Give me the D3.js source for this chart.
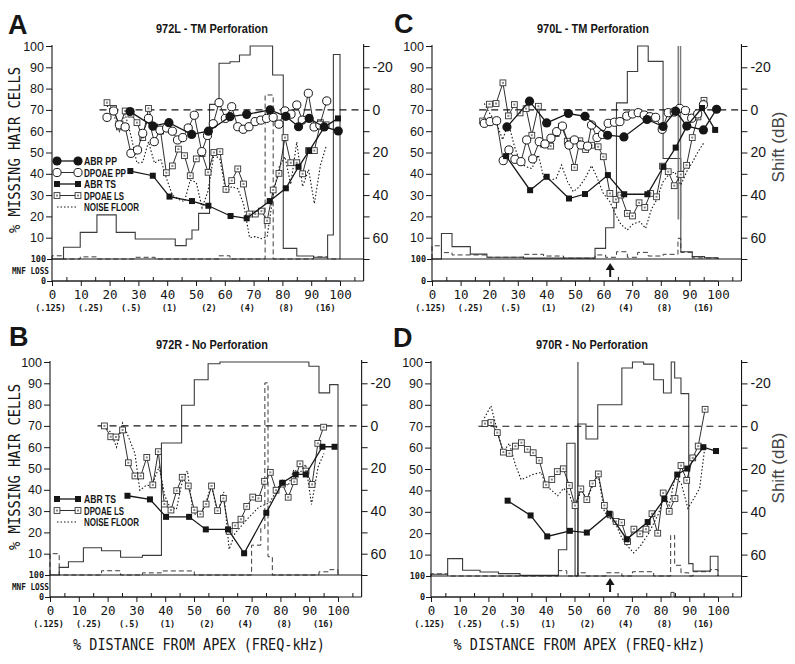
<!DOCTYPE html>
<html><head><meta charset="utf-8">
<script src="https://cdn.jsdelivr.net/npm/d3@7"></script>
<style>body{margin:0;background:#fff}svg{display:block}</style>
</head><body>
<svg id="chart" width="795" height="664"></svg>
<script>
// ---------- shared tick / label data ----------
const xTickVals = [0,10,20,30,40,50,60,70,80,90,100];
const xMinorVals = [5,15,25,35,45,55,65,75,85,95,105];
const pctTickVals = [10,20,30,40,50,60,70,80,90,100];
const shiftTickVals = [-30,-20,-10,0,10,20,30,40,50,60,70];
const shiftLabelVals = [-20,0,20,40,60];
const freqLabels = ["(.125)","(.25)","(.5)","(1)","(2)","(4)","(8)","(16)"];
const freqPos = [-0.5,13.5,27.5,40.8,54.5,67.8,81.3,94.9];

// ---------- Panel A: 972L - TM Perforation ----------
const A_ohcEdges = [0,4,9.8,15.6,22.3,28.9,42.8,46.6,48.6,50.9,54.7,58,61.8,65.1,68.8,76.6,80.3,85,90.8,95.7,97.7,100];
const A_ohcVals  = [0,5.5,12.5,20.7,12.5,9.4,6.3,9.4,13.6,21.4,72.6,91.9,92.6,95.8,100,86.4,5,1.4,0.8,11.3,96];
const A_ihcEdges = [0,4,9.8,15.6,28.9,35.8,58,61.8,74,76.8,90.8,95.7,100];
const A_ihcVals  = [1.5,0,1,0,0.8,0,1.5,0,77,0,1,0];
const A_mnfEdges = [0,100];
const A_mnfVals  = [0];
const A_abrPP = [[27.1,69.2],[35,62.4],[40.6,64],[48.5,58.5],[54.3,60],[61.8,66.8],[67.6,67.9],[75.7,70],[81.2,67],[85.6,62.1],[89.3,66],[94.5,62],[99.4,60.1]];
const A_dpPP = [[19.1,66.5],[21.4,69.5],[23.4,63],[25.4,62],[27.4,49.6],[29.7,51.2],[31.5,59],[33.5,66],[35.5,55.1],[37.5,60.5],[39.8,61.5],[41.8,60],[43.6,55.9],[45.4,57],[47.3,61.5],[49.4,67.5],[52,50.4],[54,58],[56,63.5],[58,73.4],[60.2,66],[62.4,71.5],[64.5,62.1],[66.4,60.9],[68.4,62.1],[70.5,64.5],[72.5,65.2],[74.5,66],[76.8,66.5],[78.8,63.3],[80.9,69.5],[83,68],[85,72.3],[86.9,65.2],[89,77.8],[91,62],[93,62.9],[95.4,74.2]];
const A_abrTS = [[27.2,41.3],[35,39.1],[40.8,29.3],[48.6,27.2],[54.3,25],[62,20.2],[67.6,19.1],[75.6,27.2],[81.2,33.2],[85.6,43.3],[89.3,50.8],[94.6,62],[99.3,66]];
const A_dpLS = [[19.1,73.4],[21.4,70.7],[23.4,62],[25.4,69.5],[27.4,68],[29.5,64],[31.5,57],[33.5,70.7],[35.6,62],[37.7,60],[39.7,40.5],[41.8,43.7],[43.9,51.6],[46,48.5],[48,39.1],[50.1,47],[52.1,49.5],[54.2,40.7],[56.2,50],[58.3,50.4],[60.4,32.7],[62.4,36.8],[64.5,42.3],[66.5,35.2],[68.6,21.1],[70.6,21.1],[72.7,22.5],[74.7,18],[76.8,32.4],[78.8,40.2],[80.9,57],[82.9,45.2],[85,45.2],[87,40],[89.1,50.9],[91.1,50.9],[93.2,64],[95.2,63]];
const A_noise = [[19.1,72],[21.4,68],[23.4,60],[25.4,68],[27.4,58],[29.5,45],[31.5,45.5],[33.5,55],[35.6,45],[37.7,47],[39.7,38],[41.8,30],[43.9,28],[46,27],[48,37],[50.1,36],[52.1,24],[54.2,32],[56.2,49],[58.3,47],[60.4,31],[62.4,34],[64.5,33],[66.5,26],[68.6,10],[70.6,10.5],[72.7,9.5],[74.7,10.5],[76.8,30],[78.8,43],[80.9,48],[82.9,35],[85,55],[87,34],[89.1,42],[91.1,26],[93.2,44],[95.2,53]];

// ---------- Panel B: 972R - No Perforation ----------
const B_ohcEdges = [0,3.2,6.4,11.6,17.9,24.5,32.1,38.7,45.7,50.1,54.9,59,89.9,93.4,97.1,100];
const B_ohcVals  = [0,3.6,6.2,12.8,11.4,8.3,9.2,62,79.7,91.7,99.2,100,98,85.5,89.4];
const B_ihcEdges = [0,3.2,17.9,24.5,32.1,38.7,50.1,70,73.2,74.6,75.7,77.2,93.4,97.1,100];
const B_ihcVals  = [10,0,2,0,1,1.9,0,14,21.9,90.2,8.6,0,1.5,2.5];
const B_mnfEdges = [0,100];
const B_mnfVals  = [0];
const B_abrTS = [[26.9,37.2],[34.7,35.5],[40.3,27.3],[48.3,27.3],[54.1,21.4],[61.8,21.4],[67.4,10.2],[75.1,29.2],[80.7,43.3],[85.3,47.2],[88.8,47.2],[94.6,60.2],[98.8,60.2]];
const B_dpLS = [[18.9,70],[21.1,64.9],[22.9,64.8],[25.2,68.1],[27.2,52.7],[29.5,46.5],[31.5,46.5],[33.6,55.2],[35.7,42.3],[37.6,57.9],[39.7,33.3],[42,30.5],[44,39.6],[45.9,45.9],[48,41.8],[50.1,30.5],[52.2,28.6],[54.2,33.3],[56.1,41.8],[58.2,30.2],[60.2,36],[62.2,20.5],[64.3,23.2],[66.3,26.2],[68.3,32.2],[70.4,36.6],[72.4,36],[74.5,44],[76.5,48.2],[78.5,39.8],[80.7,42.7],[82.7,36.5],[84.8,43.8],[86.8,52.2],[88.9,48.8],[91,42.5],[93,61.8],[95,69.4]];
const B_noise = [[18.9,70],[21.1,67],[23.1,60],[25.2,71.4],[27.2,65],[29.5,57],[31.2,39.8],[33.5,42.2],[35.3,41.9],[37.9,50.8],[39.9,37],[41.6,32],[43.9,30.8],[46,44.5],[47.7,48.9],[49.7,29.2],[51.8,27.3],[54,33.6],[56.1,42.2],[58.2,28.9],[60.3,39],[62.2,12],[64.2,19.5],[68.2,25.8],[72.6,32],[76.3,33.9],[78.6,39.8],[80.7,44.5],[82.7,41.9],[84.7,49.5],[86.7,47.7],[88.8,51.9],[90.8,33.1],[93.1,50.8],[95.1,57]];

// ---------- Panel C: 970L - TM Perforation ----------
const C_ohcEdges = [0,3.3,7,13.4,19.2,32,57,60.7,63.6,64.5,68.3,71.9,75.6,80.8,87,91,95.3,100];
const C_ohcVals  = [0,12,5.8,2.3,0.8,0.4,5,14.7,24,73.3,88,100,92.8,47.2,3.4,1.1,0.6];
const C_ihcEdges = [0,3.3,7,19.2,32,39,46,57,60.7,64.5,68.3,71.9,75.6,80.8,86,87,91,100];
const C_ihcVals  = [6.2,3,1.9,0.8,2.2,1.4,0.4,1.9,0.8,3.4,0.8,3.1,1.4,2.2,9.7,3.1,0.5];
const C_mnfEdges = [0,100];
const C_mnfVals  = [0];
const C_abrPP = [[26.2,62],[34.1,74.1],[40.1,63.9],[47.7,68.3],[53.5,67],[61.4,58.1],[67.1,57.3],[75.2,65.5],[80.8,62.2],[85.2,69.4],[89.1,62.4],[94.9,60.6],[99.5,70.3]];
const C_dpPP = [[18.3,63.7],[20.3,64.5],[22.6,64.9],[24.9,46.2],[26.9,51.2],[29,46.8],[31.1,45.7],[33.1,55.9],[35.2,47],[37.5,55.1],[39.5,54],[41.6,56.7],[43.6,59.8],[45.6,62.4],[47.9,53.5],[49.8,55.9],[52.1,53.5],[54.4,53],[55.8,62.9],[57.7,57],[59.6,58.5],[61.6,63.7],[63.8,64.2],[65.7,64.5],[68.1,67.1],[70.1,68.1],[72.1,68.7],[74.2,67.6],[76.2,66.8],[78.2,66.5],[80.5,60.9],[82.6,68.7],[84.7,69],[86.6,70.7],[88.6,69.7],[90.8,66.1],[92.9,68.1],[94.9,72.4]];
const C_abrTS = [[25.9,48.3],[34.3,32.3],[40.1,38.6],[47.9,28.4],[53.5,30.5],[61.5,39.4],[67.2,30.4],[75.3,30.4],[80.9,43.3],[85.2,52.3],[89.1,62.4],[94.4,70.9],[99,60.6]];
const C_dpLS = [[17.7,64.8],[20.1,72.7],[22.4,73],[24.8,82.7],[26.7,67.2],[28.8,72.5],[30.8,68.6],[32.9,70.6],[34.9,58.1],[37.2,71.7],[39,53.9],[41.5,53],[43.4,58.9],[45.3,62.3],[47.3,55.3],[49.8,43],[51.7,55.5],[53.7,51.4],[55.8,53.4],[58.1,52.7],[59.9,48],[62.2,30.8],[64.3,28],[66,30],[68.3,21.4],[70.1,20.2],[72.4,26.4],[74.4,24.2],[76.4,30.8],[78.5,29.2],[80.6,43.6],[82.6,41],[84.7,34.4],[87,39.7],[89,44],[91,57],[93,66.7],[95.1,74.5]];
const C_noise = [[18.3,73],[20.3,68],[22.5,64],[24.7,56],[26.7,64],[28.8,53],[30.8,45.3],[32.9,43.3],[34.9,42.5],[37.2,48.8],[39,38.6],[41.3,37],[43.4,37.8],[45.3,44.1],[47.4,36.3],[49.4,31.6],[51.5,33.9],[53.6,38],[55.8,43.8],[57.6,38.6],[59.9,30.8],[62.2,26.9],[64,21.4],[66,16.4],[68.3,13.6],[70.3,16.4],[72.7,17.5],[74.7,14.4],[76.7,23.3],[78.5,27.7],[80.8,36.3],[82.9,39.8],[84.9,40.9],[87,34.7],[89.3,41.7],[91,45.3],[93,50.3],[95.1,54.7]];

// ---------- Panel D: 970R - No Perforation ----------
const D_ohcEdges = [0,5.8,11,17.1,23.5,31,44.4,47.3,50.2,51.2,54,58.1,66.5,70.2,74.1,77.6,81,83.7,84.9,87.1,89.8,91.3,97.3,100];
const D_ohcVals  = [0.8,8.1,2.7,1.9,1.1,0.3,12.3,62,0,71,64,80,97.2,100,99,91.7,85.5,100,92.5,85.2,5.8,2.3,9.2];
const D_ihcEdges = [0,5.8,44.4,47.3,51.2,54,61,66.5,70.2,77.6,83.5,84.9,87.1,89.8,91.3,97.3,100];
const D_ihcVals  = [1,0,2.5,0,1.5,0,1.5,0,2,0,19,5,1.5,0,2,3];
const D_mnfEdges = [0,83.6,84.7,100];
const D_mnfVals  = [0,22,0];
const D_abrTS = [[26.7,35.2],[34.7,28.3],[40.5,18.5],[48.4,21.1],[54.3,20.3],[62.1,29.1],[68.2,17.2],[75.5,25.2],[81.3,36],[85.8,47.4],[89.3,50.2],[94.9,60.2],[99.3,58.4]];
const D_dpLS = [[18.8,71.2],[20.9,71.7],[23.1,67],[25.2,57.9],[27.3,57.3],[29.4,60.7],[31.5,62.3],[33.6,59.2],[35.6,57.6],[37.7,54],[40.1,42.6],[42.1,45.1],[44,48.8],[46.1,50.1],[48.2,42.3],[50.2,32.9],[52.2,40.7],[54.3,35.7],[56.3,43.2],[58.3,47.7],[60.4,33],[62.4,28.6],[64.5,25.5],[66.4,25],[68.5,16.1],[70.7,21.9],[72.8,19.7],[74.9,21.9],[77,29.1],[79,20],[80.9,38.8],[83,30.2],[85,36.2],[87.1,51.6],[89.1,44.7],[91.2,55.2],[93.1,60.7],[95.5,77.9]];
const D_noise = [[18.6,73.8],[20.9,79.5],[23.1,67.7],[25.2,58],[27.3,62],[29.4,52],[31.4,45],[35.6,47.5],[38.4,48.4],[40.1,42],[42.1,40],[44.1,37.5],[46.2,41],[48.2,38],[50.2,31],[52.2,40],[54.3,36],[56.3,42],[58.3,47],[60.4,30],[62.4,27],[64.5,24],[66.4,18],[68.5,14],[70.6,10.8],[72.9,13.9],[75.8,19.8],[79.3,29.2],[81.4,37.8],[83,33],[85,46],[87.2,43.3],[89.5,31.6],[91.5,36],[93.6,41],[95.5,61]];

// ---------- drawing ----------
const svg = d3.select("#chart");
const SANS = "'Liberation Sans', Arial, sans-serif";
const MONO = "'DejaVu Sans Mono', monospace";
const INK = "#161616";

function stepPts(edges, vals){
  const pts = [[edges[0],0]];
  vals.forEach((v,i)=>{ pts.push([edges[i],v]); pts.push([edges[i+1],v]); });
  pts.push([edges[edges.length-1],0]);
  return pts;
}

function addMarkers(g, data, type, x, y){
  const e = g.append("g").selectAll(null).data(data).enter();
  if(type==="fc") e.append("circle").attr("cx",d=>x(d[0])).attr("cy",d=>y(d[1])).attr("r",4.6).attr("fill",INK);
  if(type==="oc") e.append("circle").attr("cx",d=>x(d[0])).attr("cy",d=>y(d[1])).attr("r",4.1).attr("fill","#fff").attr("stroke",INK).attr("stroke-width",1);
  if(type==="fs") e.append("rect").attr("x",d=>x(d[0])-3).attr("y",d=>y(d[1])-3).attr("width",6).attr("height",6).attr("fill",INK);
  if(type==="os"){
    e.append("rect").attr("x",d=>x(d[0])-2.9).attr("y",d=>y(d[1])-2.9).attr("width",5.8).attr("height",5.8).attr("fill","#fff").attr("stroke","#333").attr("stroke-width",0.9);
    g.append("g").selectAll(null).data(data).enter().append("rect").attr("x",d=>x(d[0])-1).attr("y",d=>y(d[1])-1).attr("width",2).attr("height",2).attr("fill","#888");
  }
}

const styles = {
  noise: {stroke:INK, width:1.1, dash:"1.5,2", marker:null},
  dpLS:  {stroke:INK, width:0.9, dash:null, marker:"os"},
  dpPP:  {stroke:INK, width:0.9, dash:null, marker:"oc"},
  abrTS: {stroke:INK, width:1.3, dash:null, marker:"fs"},
  abrPP: {stroke:INK, width:1.3, dash:null, marker:"fc"}
};
const legendNames = {abrPP:"ABR PP", dpPP:"DPOAE PP", abrTS:"ABR TS", dpLS:"DPOAE LS", noise:"NOISE FLOOR"};
const legendLen = {abrPP:33, dpPP:42, abrTS:32, dpLS:40, noise:55};

function drawPanel(p){
  const g = svg.append("g");
  const x = d3.scaleLinear().domain([0,100]).range([p.x0,p.x100]);
  const y = d3.scaleLinear().domain([0,100]).range([p.yBase,p.yTop]);
  const yS = d3.scaleLinear().domain([-30,70]).range([p.yTop,p.yBase]);
  const yM = d3.scaleLinear().domain([0,100]).range([p.yMnf,p.yBase]);
  const xR = x(108.2);
  const line = d3.line().x(d=>x(d[0])).y(d=>y(d[1]));
  const mline = d3.line().x(d=>x(d[0])).y(d=>yM(d[1]));

  // histograms
  g.append("path").attr("d",line(stepPts(p.ohc[0],p.ohc[1]))).attr("fill","none").attr("stroke","#3c3c3c").attr("stroke-width",1.1);
  g.append("path").attr("d",line(stepPts(p.ihc[0],p.ihc[1]))).attr("fill","none").attr("stroke","#3c3c3c").attr("stroke-width",1).attr("stroke-dasharray","5,3");
  g.append("path").attr("d",mline(stepPts(p.mnf[0],p.mnf[1]))).attr("fill","none").attr("stroke","#3c3c3c").attr("stroke-width",1);

  // extra vertical markers
  (p.vlines||[]).forEach(v=>{
    g.append("line").attr("x1",x(v.x)).attr("x2",x(v.x)).attr("y1",y(v.from)).attr("y2",y(v.to))
      .attr("stroke",v.color).attr("stroke-width",v.w);
  });

  // frame
  const fr = (x1,y1,x2,y2)=>g.append("line").attr("x1",x1).attr("y1",y1).attr("x2",x2).attr("y2",y2).attr("stroke",INK).attr("stroke-width",1.1);
  fr(p.x0,p.yTop-1,p.x0,p.yMnf);
  fr(p.x0,p.yMnf,xR,p.yMnf);
  fr(xR,p.yTop-2,xR,p.yMnf);
  fr(p.x0,p.yBase,xR,p.yBase);

  // 0 dB reference
  g.append("line").attr("x1",x(16.5)).attr("x2",xR).attr("y1",yS(0)).attr("y2",yS(0))
    .attr("stroke",INK).attr("stroke-width",1.1).attr("stroke-dasharray","7,5");

  // axes
  const la = g.append("g").attr("transform",`translate(${p.x0},0)`)
    .call(d3.axisLeft(y).tickValues(pctTickVals).tickSize(6).tickSizeOuter(0).tickPadding(2));
  la.select(".domain").remove();
  la.selectAll("text").attr("font-family",SANS).attr("font-size",12.5).attr("fill",INK);
  la.selectAll("line").attr("stroke",INK);

  const lm = g.append("g").attr("transform",`translate(${p.x0},0)`)
    .call(d3.axisLeft(yM).tickValues([0,100]).tickSize(5).tickSizeOuter(0).tickPadding(1));
  lm.select(".domain").remove();
  lm.selectAll("text").attr("font-family",MONO).attr("font-weight","bold").attr("font-size",8.5).attr("fill",INK);
  lm.selectAll("line").attr("stroke",INK);

  const ba = g.append("g").attr("transform",`translate(0,${p.yMnf})`)
    .call(d3.axisBottom(x).tickValues(xTickVals).tickSize(5).tickSizeOuter(0).tickPadding(4));
  ba.select(".domain").remove();
  ba.selectAll("text").attr("font-family",MONO).attr("font-size",12.5).attr("fill",INK);
  ba.selectAll("line").attr("stroke",INK);

  const bm = g.append("g").attr("transform",`translate(0,${p.yMnf})`)
    .call(d3.axisBottom(x).tickValues(xMinorVals).tickSize(-4).tickSizeOuter(0).tickFormat(""));
  bm.select(".domain").remove();
  bm.selectAll("line").attr("stroke",INK);

  const ra = g.append("g").attr("transform",`translate(${xR},0)`)
    .call(d3.axisRight(yS).tickValues(shiftTickVals).tickSize(6).tickSizeOuter(0).tickPadding(3)
      .tickFormat(d=>shiftLabelVals.includes(d)?(d<0?"-"+(-d):String(d)):""));
  ra.select(".domain").remove();
  ra.selectAll("text").attr("font-family",SANS).attr("font-size",14).attr("fill",INK);
  ra.selectAll("line").attr("stroke",INK);

  // frequency labels
  g.append("g").selectAll(null).data(freqLabels).enter().append("text")
    .attr("x",(d,i)=>x(freqPos[i])).attr("y",p.yMnf+30).attr("text-anchor","middle")
    .attr("font-family",MONO).attr("font-weight","bold").attr("font-size",8.5).attr("fill",INK).text(d=>d);

  // series
  p.order.forEach(k=>{
    const st = styles[k], data = p.series[k];
    if(!data) return;
    const path = g.append("path").attr("d",line(data)).attr("fill","none").attr("stroke",st.stroke).attr("stroke-width",st.width);
    if(st.dash) path.attr("stroke-dasharray",st.dash);
    if(st.marker) addMarkers(g,data,st.marker,x,y);
  });

  // legend
  if(p.legend){
    p.legend.keys.forEach((k,i)=>{
      const ly = p.legend.y[i], st = styles[k];
      const ln = g.append("line").attr("x1",57).attr("x2",78).attr("y1",ly).attr("y2",ly).attr("stroke",st.stroke).attr("stroke-width",st.width);
      if(st.dash) ln.attr("stroke-dasharray",st.dash);
      if(st.marker){
        const lx = d3.scaleLinear().domain([0,1]).range([57,78]);
        addMarkers(g,[[0,ly],[1,ly]],st.marker,lx,v=>v);
      }
      g.append("text").attr("x",84).attr("y",ly+4).attr("font-family",SANS).attr("font-weight","bold")
        .attr("font-size",10.5).attr("textLength",legendLen[k]).attr("lengthAdjust","spacingAndGlyphs")
        .attr("fill",INK).text(legendNames[k]);
    });
  }

  // arrow
  if(p.arrow){
    const ax = x(p.arrow.x);
    g.append("line").attr("x1",ax).attr("x2",ax).attr("y1",p.arrow.y1).attr("y2",p.arrow.y0+5).attr("stroke",INK).attr("stroke-width",2);
    g.append("path").attr("d",`M${ax-4.5},${p.arrow.y0+7}L${ax},${p.arrow.y0}L${ax+4.5},${p.arrow.y0+7}Z`).attr("fill",INK);
  }

  // titles and letters
  g.append("text").attr("x",p.titleX).attr("y",p.yTop-13).attr("text-anchor","middle").attr("font-family",SANS)
    .attr("font-weight","bold").attr("font-size",13).attr("textLength",112).attr("lengthAdjust","spacingAndGlyphs")
    .attr("fill",INK).text(p.title);
  g.append("text").attr("x",p.letterX).attr("y",p.letterY).attr("font-family",SANS).attr("font-weight","bold")
    .attr("font-size",27).attr("fill",INK).text(p.letter);

  if(p.leftTitle){
    g.append("text").attr("transform",`translate(20,${p.leftTitleY}) rotate(-90)`).attr("text-anchor","middle")
      .attr("font-family",MONO).attr("font-size",16).attr("textLength",166).attr("lengthAdjust","spacingAndGlyphs")
      .attr("fill",INK).text("% MISSING HAIR CELLS");
    g.append("text").attr("x",49).attr("y",(p.yBase+p.yMnf)/2+3.5).attr("text-anchor","end")
      .attr("font-family",MONO).attr("font-weight","bold").attr("font-size",8.5).attr("textLength",37)
      .attr("lengthAdjust","spacingAndGlyphs").attr("fill",INK).text("MNF LOSS");
  }
  if(p.rightTitle){
    g.append("text").attr("transform",`translate(784,${p.rightTitleY}) rotate(-90)`).attr("text-anchor","middle")
      .attr("font-family",SANS).attr("font-size",17).attr("fill","#444").text("Shift (dB)");
  }
  if(p.xTitle){
    g.append("text").attr("x",(p.x0+p.x100)/2+5).attr("y",p.yMnf+53).attr("text-anchor","middle")
      .attr("font-family",MONO).attr("font-size",16).attr("textLength",252).attr("lengthAdjust","spacingAndGlyphs")
      .attr("fill",INK).text("% DISTANCE FROM APEX (FREQ-kHz)");
  }
}

drawPanel({
  x0:52, x100:340, yTop:46, yBase:259, yMnf:281,
  ohc:[A_ohcEdges,A_ohcVals], ihc:[A_ihcEdges,A_ihcVals], mnf:[A_mnfEdges,A_mnfVals],
  series:{noise:A_noise, dpLS:A_dpLS, dpPP:A_dpPP, abrTS:A_abrTS, abrPP:A_abrPP},
  order:["noise","dpLS","dpPP","abrTS","abrPP"],
  legend:{keys:["abrPP","dpPP","abrTS","dpLS","noise"], y:[161,172.5,184,195.5,207]},
  title:"972L - TM Perforation", titleX:212, letter:"A", letterX:8, letterY:34,
  leftTitle:true, leftTitleY:150
});
drawPanel({
  x0:50, x100:338, yTop:362, yBase:575, yMnf:597,
  ohc:[B_ohcEdges,B_ohcVals], ihc:[B_ihcEdges,B_ihcVals], mnf:[B_mnfEdges,B_mnfVals],
  series:{noise:B_noise, dpLS:B_dpLS, abrTS:B_abrTS},
  order:["noise","dpLS","abrTS"],
  legend:{keys:["abrTS","dpLS","noise"], y:[499,510.5,522]},
  title:"972R - No Perforation", titleX:212, letter:"B", letterX:9, letterY:346,
  leftTitle:true, leftTitleY:467, xTitle:true
});
drawPanel({
  x0:432, x100:718, yTop:46, yBase:259, yMnf:281,
  ohc:[C_ohcEdges,C_ohcVals], ihc:[C_ihcEdges,C_ihcVals], mnf:[C_mnfEdges,C_mnfVals],
  series:{noise:C_noise, dpLS:C_dpLS, dpPP:C_dpPP, abrTS:C_abrTS, abrPP:C_abrPP},
  order:["noise","dpLS","dpPP","abrTS","abrPP"],
  vlines:[{x:86.1,from:18.6,to:100,color:"#777",w:1.4},{x:86.9,from:18.6,to:100,color:"#777",w:1.4}],
  arrow:{x:62.3,y0:263,y1:277},
  title:"970L - TM Perforation", titleX:593, letter:"C", letterX:394, letterY:33,
  rightTitle:true, rightTitleY:147
});
drawPanel({
  x0:431, x100:718, yTop:362, yBase:576, yMnf:597,
  ohc:[D_ohcEdges,D_ohcVals], ihc:[D_ihcEdges,D_ihcVals], mnf:[D_mnfEdges,D_mnfVals],
  series:{noise:D_noise, dpLS:D_dpLS, abrTS:D_abrTS},
  order:["noise","dpLS","abrTS"],
  vlines:[{x:51.2,from:0,to:100,color:"#222",w:1}],
  arrow:{x:62.4,y0:578,y1:592},
  title:"970R - No Perforation", titleX:592, letter:"D", letterX:393, letterY:347,
  rightTitle:true, rightTitleY:468, xTitle:true
});
</script>
</body></html>
